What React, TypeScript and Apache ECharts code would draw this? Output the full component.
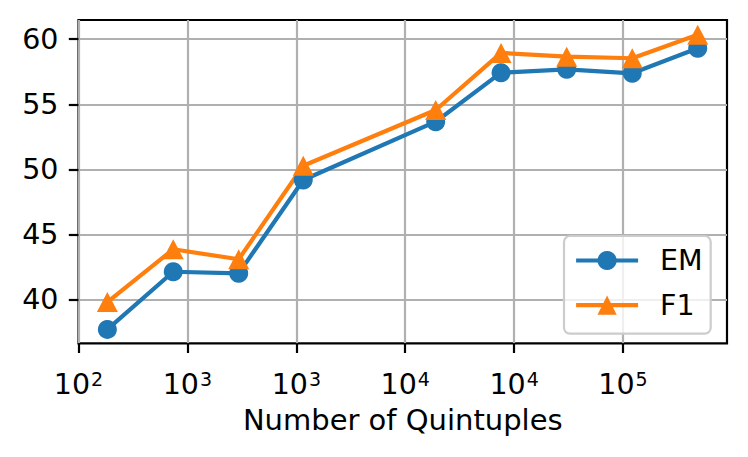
import React, { useEffect, useRef } from "react";
import * as echarts from "echarts";

// Positions on the (log-scaled) x axis, in tick units (tick k <-> label index k)
const xPositions = [0.265, 0.87, 1.471, 2.064, 3.28, 3.88, 4.483, 5.085, 5.686];
const emValues = [37.69, 42.12, 42.0, 49.18, 53.66, 57.43, 57.69, 57.38, 59.31];
const f1Values = [39.79, 43.85, 43.08, 50.27, 54.56, 58.95, 58.66, 58.54, 60.35];
const xTickValues = [0, 1, 2, 3, 4, 5];
const xTickExponents = ["2", "3", "3", "4", "4", "5"];
const yTickValues = [40, 45, 50, 55, 60];

const FONT = "DejaVu Sans";

export default function App() {
  const ref = useRef<HTMLDivElement>(null);
  useEffect(() => {
    if (!ref.current) return;
    const chart = echarts.init(ref.current, undefined, { renderer: "svg" });
    const pair = (vals: number[]) => vals.map((v, i) => [xPositions[i], v]);
    chart.setOption({
      animation: false,
      backgroundColor: "#ffffff",
      grid: {
        left: 78.5,
        top: 20,
        right: 21,
        bottom: 113.7,
        show: true,
        borderColor: "#000000",
        borderWidth: 2.2,
        backgroundColor: "transparent",
      },
      legend: {
        left: 564,
        top: 236,
        orient: "vertical",
        padding: [10, 8, 14, 10],
        itemWidth: 62,
        itemHeight: 24,
        itemGap: 15.7,
        backgroundColor: "rgba(255,255,255,0.8)",
        borderColor: "#cccccc",
        borderWidth: 2.2,
        borderRadius: 6,
        lineStyle: { width: 4.2 },
        textStyle: {
          fontFamily: FONT,
          fontSize: 28.5,
          color: "#000",
          padding: [0, 0, 0, 17],
        },
        data: ["EM", "F1"],
      },
      xAxis: {
        type: "value",
        min: 0,
        max: 5.955,
        interval: 1,
        name: "Number of Quintuples",
        nameLocation: "middle",
        nameGap: 62,
        nameTextStyle: { fontFamily: FONT, fontSize: 29, color: "#000" },
        axisLine: { show: false },
        axisTick: {
          show: true,
          length: 9.7,
          lineStyle: { color: "#000", width: 2.2 },
          customValues: xTickValues,
        },
        splitLine: { show: true, lineStyle: { color: "#b0b0b0", width: 2.2 } },
        axisLabel: {
          customValues: xTickValues,
          margin: 26,
          formatter: (v: number) => {
            const idx = xTickValues.indexOf(Math.round(v));
            const e = idx >= 0 ? xTickExponents[idx] : "";
            return `{b|10}{s|${e}}`;
          },
          rich: {
            b: { fontFamily: FONT, fontSize: 28.5, color: "#000" },
            s: {
              fontFamily: FONT,
              fontSize: 19,
              color: "#000",
              padding: [0, 0, 11, 1],
            },
          },
        },
      },
      yAxis: {
        type: "value",
        min: 36.62,
        max: 61.48,
        axisLine: { show: false },
        axisTick: {
          show: true,
          length: 9.7,
          lineStyle: { color: "#000", width: 2.2 },
          customValues: yTickValues,
        },
        splitLine: { show: true, lineStyle: { color: "#b0b0b0", width: 2.2 } },
        axisLabel: {
          customValues: yTickValues,
          margin: 20,
          fontFamily: FONT,
          fontSize: 28.5,
          color: "#000",
        },
      },
      series: [
        {
          name: "EM",
          type: "line",
          data: pair(emValues),
          symbol: "circle",
          symbolSize: 19,
          color: "#1f77b4",
          lineStyle: { width: 4.2, color: "#1f77b4" },
          itemStyle: { color: "#1f77b4", borderWidth: 0 },
        },
        {
          name: "F1",
          type: "line",
          data: pair(f1Values),
          symbol: "triangle",
          symbolSize: [21, 20],
          color: "#ff7f0e",
          lineStyle: { width: 4.2, color: "#ff7f0e" },
          itemStyle: { color: "#ff7f0e", borderWidth: 0 },
        },
      ],
    });
    return () => chart.dispose();
  }, []);
  return (
    <div
      ref={ref}
      style={{ position: "fixed", left: 0, top: 0, width: 748, height: 457 }}
    />
  );
}
